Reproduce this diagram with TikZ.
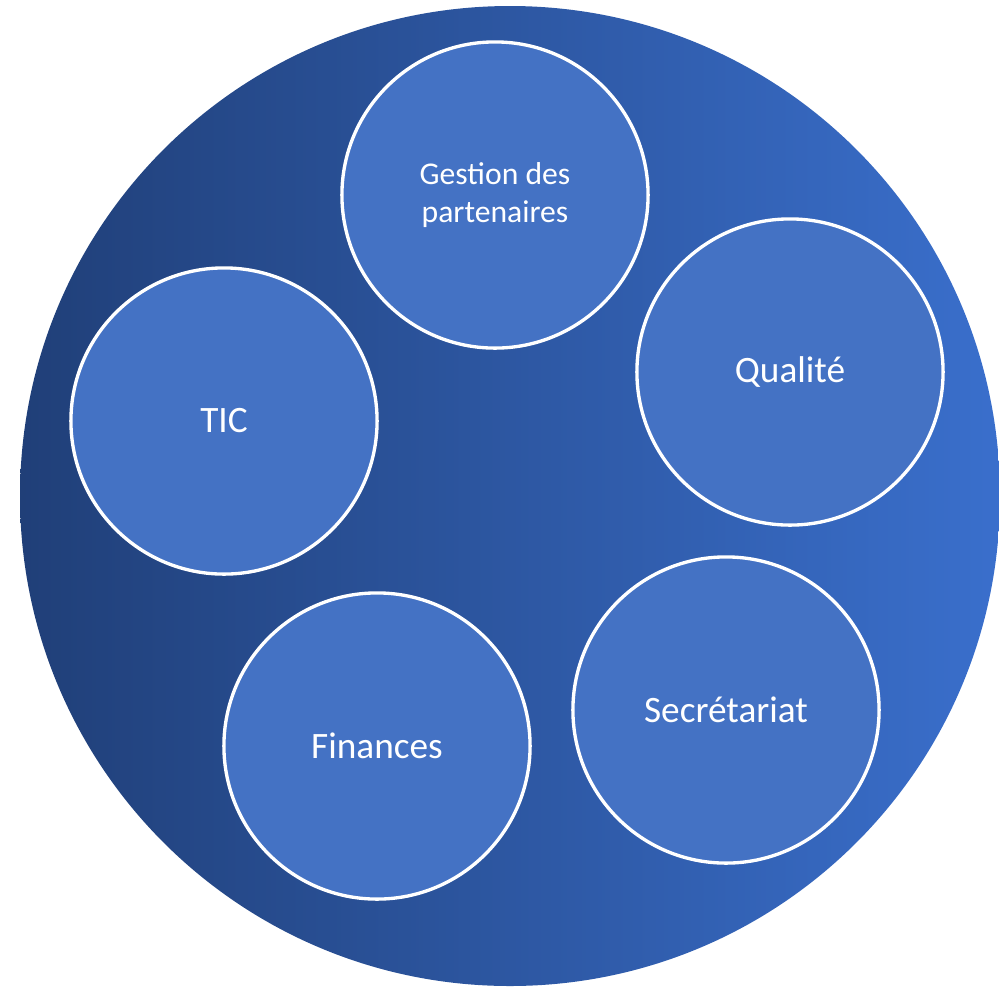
\documentclass[tikz,border=0pt]{standalone}
\usepackage{fontspec}
\setmainfont{Carlito}
\usepackage{tikz}
\usetikzlibrary{positioning}

\definecolor{poledark}{HTML}{203F78}
\definecolor{polelight}{HTML}{3A6FCC}
\definecolor{unitfill}{HTML}{4472C4}

\tikzset{
  unit/.style={circle, draw=white, fill=unitfill, line width=0.95pt, minimum size=3.06cm,
    inner sep=0pt, text=white, align=center},
  bigtext/.style={font=\fontsize{10.6}{12}\selectfont},
  smalltext/.style={font=\fontsize{9}{10.8}\selectfont}
}

\begin{document}
\begin{tikzpicture}[x=0.01cm, y=-0.01cm]
\useasboundingbox (0,0) rectangle (999,990);
\clip (0,0) rectangle (999,990);
% outer circle
\shade [left color=poledark, right color=polelight] (510,496) circle [radius=490];
\coordinate (pole) at (510,496);

\node [unit, smalltext] (gestion) at (495,195) {Gestion des\\partenaires};
\node [unit, bigtext] (qualite) at (790,372) {Qualité};
\node [unit, bigtext] (tic) at (224,421) {TIC};
\node [unit, bigtext] (secretariat) at (726,710) {Secrétariat};
\node [unit, bigtext] (finances) at (377,746) {Finances};
\end{tikzpicture}
\end{document}
